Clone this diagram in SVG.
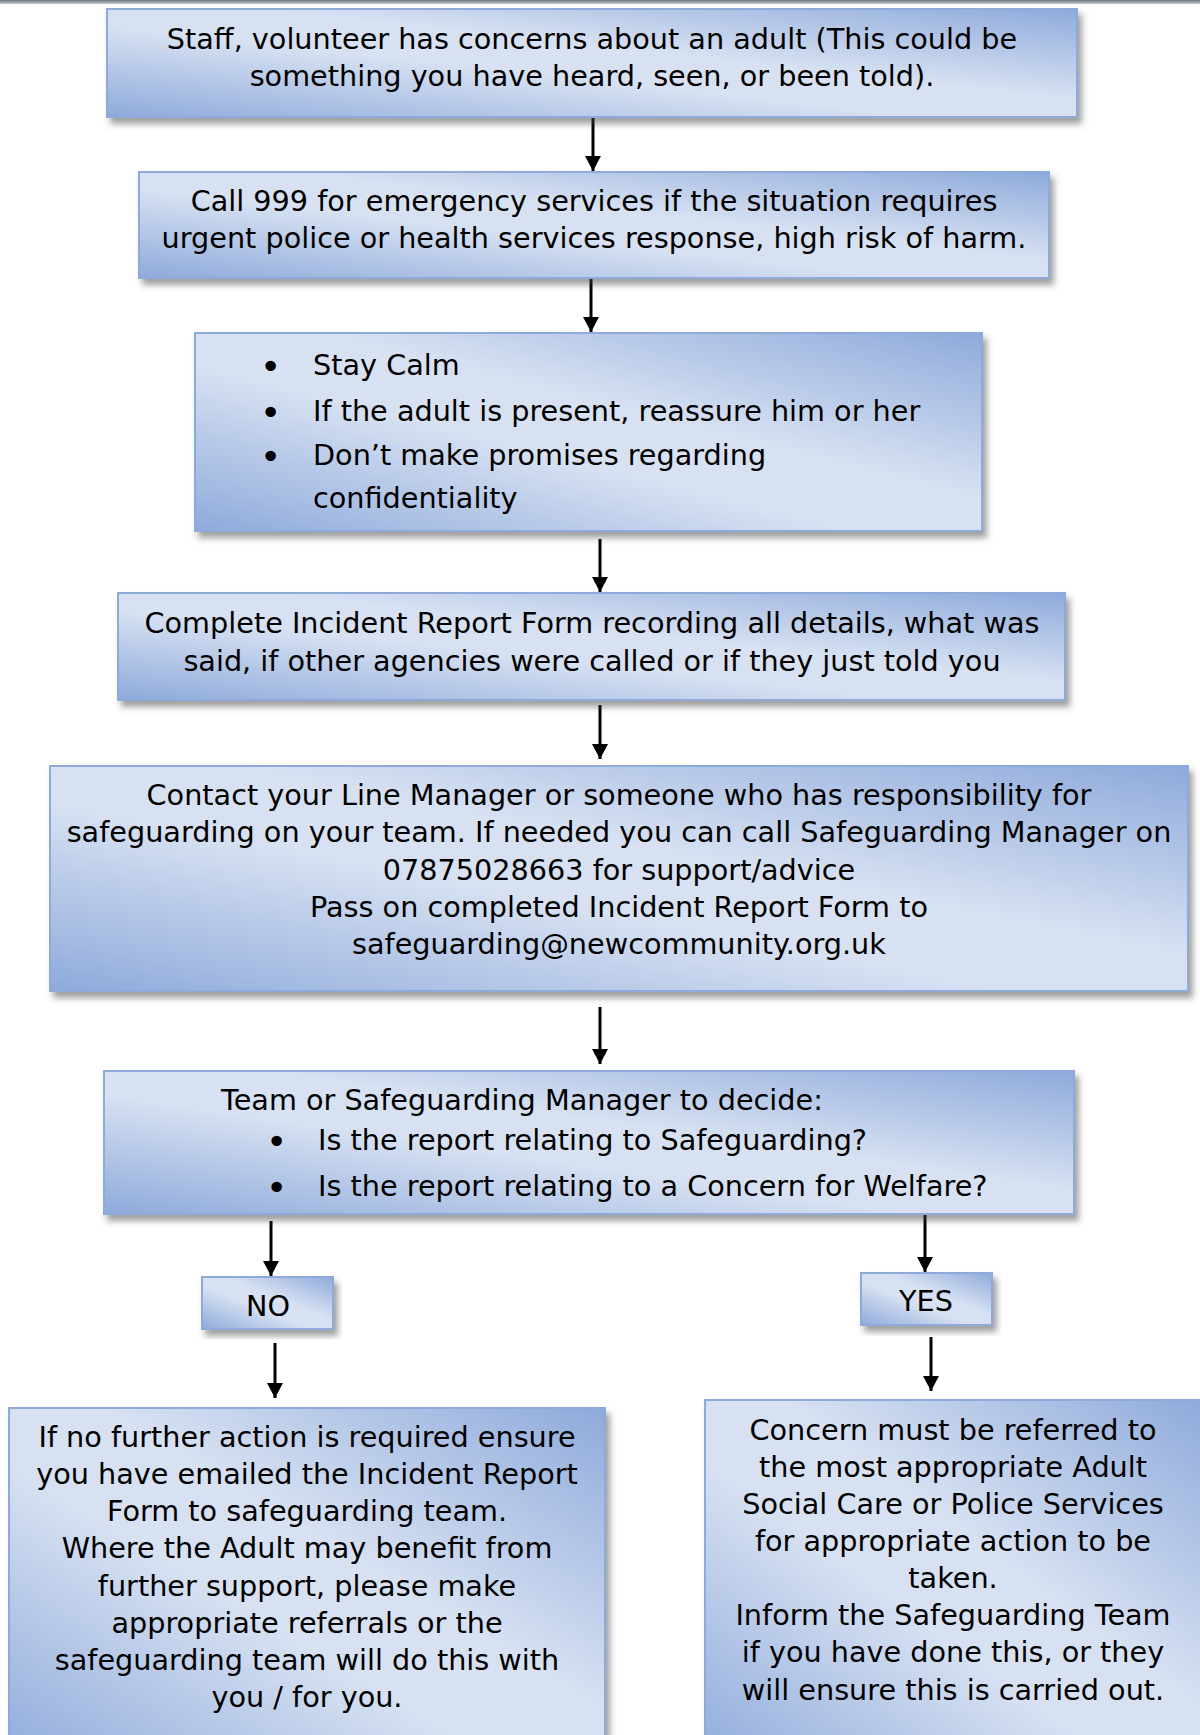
<svg xmlns="http://www.w3.org/2000/svg" width="1200" height="1735" viewBox="0 0 1200 1735">
<defs>
<linearGradient id="g" x1="1" y1="0" x2="0" y2="1">
<stop offset="0" stop-color="#8eaadb"/>
<stop offset="0.42" stop-color="#d7e1f2"/>
<stop offset="0.58" stop-color="#d7e1f2"/>
<stop offset="1" stop-color="#8eaadb"/>
</linearGradient>
<linearGradient id="top" x1="0" y1="0" x2="0" y2="1">
<stop offset="0" stop-color="#6b7380"/>
<stop offset="1" stop-color="#c8ccd2"/>
</linearGradient>
<filter id="sh" x="-5%" y="-10%" width="112%" height="130%">
<feDropShadow dx="4" dy="6" stdDeviation="3" flood-color="#404040" flood-opacity="0.5"/>
</filter>
<marker id="ah" viewBox="0 0 15 16" refX="15" refY="8" markerWidth="15" markerHeight="16" markerUnits="userSpaceOnUse" orient="auto">
<path d="M0,0 L15,8 L0,16 z" fill="#000"/>
</marker>
</defs>
<style>
.box{fill:url(#g);stroke:#8eaadb;stroke-width:2;filter:url(#sh)}
.t{font-family:"DejaVu Sans",Verdana,sans-serif;font-size:28.7px;fill:#000}
.b{font-family:"DejaVu Sans",Verdana,sans-serif;font-size:36px;fill:#000}
.c{text-anchor:middle}
.ar{stroke:#000;stroke-width:3;fill:none;marker-end:url(#ah)}
</style>
<rect x="0" y="0" width="1200" height="4" fill="url(#top)"/>

<g id="connectors">
<line class="ar" x1="593" y1="116" x2="593" y2="171"/>
<line class="ar" x1="591" y1="278" x2="591" y2="332"/>
<line class="ar" x1="600" y1="539" x2="600" y2="592"/>
<line class="ar" x1="600" y1="705" x2="600" y2="759"/>
<line class="ar" x1="600" y1="1007" x2="600" y2="1064"/>
<line class="ar" x1="271" y1="1221" x2="271" y2="1276"/>
<line class="ar" x1="925" y1="1214" x2="925" y2="1272"/>
<line class="ar" x1="275" y1="1343" x2="275" y2="1398"/>
<line class="ar" x1="931" y1="1337" x2="931" y2="1391"/>
</g>

<g id="n1">
<rect class="box" x="107" y="9" width="970" height="108"/>
<text class="t c" x="592" y="49">Staff, volunteer has concerns about an adult (This could be</text>
<text class="t c" x="592" y="86">something you have heard, seen, or been told).</text>
</g>

<g id="n2">
<rect class="box" x="139" y="172" width="910" height="106"/>
<text class="t c" x="594" y="211">Call 999 for emergency services if the situation requires</text>
<text class="t c" x="594" y="248">urgent police or health services response, high risk of harm.</text>
</g>

<g id="n3">
<rect class="box" x="195" y="333" width="787" height="198"/>
<text class="b" x="260" y="379">•</text>
<text class="t" x="313" y="375">Stay Calm</text>
<text class="b" x="260" y="425">•</text>
<text class="t" x="313" y="421">If the adult is present, reassure him or her</text>
<text class="b" x="260" y="469">•</text>
<text class="t" x="313" y="465">Don’t make promises regarding</text>
<text class="t" x="313" y="508">confidentiality</text>
</g>

<g id="n4">
<rect class="box" x="118" y="593" width="947" height="107"/>
<text class="t c" x="592" y="633">Complete Incident Report Form recording all details, what was</text>
<text class="t c" x="592" y="671">said, if other agencies were called or if they just told you</text>
</g>

<g id="n5">
<rect class="box" x="50" y="766" width="1138" height="225"/>
<text class="t c" x="619" y="805">Contact your Line Manager or someone who has responsibility for</text>
<text class="t c" x="619" y="842">safeguarding on your team. If needed you can call Safeguarding Manager on</text>
<text class="t c" x="619" y="880">07875028663 for support/advice</text>
<text class="t c" x="619" y="917">Pass on completed Incident Report Form to</text>
<text class="t c" x="619" y="954">safeguarding@newcommunity.org.uk</text>
</g>

<g id="n6">
<rect class="box" x="104" y="1071" width="970" height="143"/>
<text class="t" x="221" y="1110">Team or Safeguarding Manager to decide:</text>
<text class="b" x="266" y="1154">•</text>
<text class="t" x="318" y="1150">Is the report relating to Safeguarding?</text>
<text class="b" x="266" y="1200">•</text>
<text class="t" x="318" y="1196">Is the report relating to a Concern for Welfare?</text>
</g>

<g id="no">
<rect class="box" x="202" y="1277" width="131" height="52"/>
<text class="t c" x="268" y="1316">NO</text>
</g>

<g id="yes">
<rect class="box" x="861" y="1273" width="131" height="52"/>
<text class="t c" x="926" y="1311">YES</text>
</g>

<g id="n7">
<rect class="box" x="9" y="1408" width="596" height="360"/>
<text class="t c" x="307" y="1447">If no further action is required ensure</text>
<text class="t c" x="307" y="1484">you have emailed the Incident Report</text>
<text class="t c" x="307" y="1521">Form to safeguarding team.</text>
<text class="t c" x="307" y="1558">Where the Adult may benefit from</text>
<text class="t c" x="307" y="1596">further support, please make</text>
<text class="t c" x="307" y="1633">appropriate referrals or the</text>
<text class="t c" x="307" y="1670">safeguarding team will do this with</text>
<text class="t c" x="307" y="1707">you / for you.</text>
</g>

<g id="n8">
<rect class="box" x="705" y="1400" width="500" height="370"/>
<text class="t c" x="953" y="1440">Concern must be referred to</text>
<text class="t c" x="953" y="1477">the most appropriate Adult</text>
<text class="t c" x="953" y="1514">Social Care or Police Services</text>
<text class="t c" x="953" y="1551">for appropriate action to be</text>
<text class="t c" x="953" y="1588">taken.</text>
<text class="t c" x="953" y="1625">Inform the Safeguarding Team</text>
<text class="t c" x="953" y="1662">if you have done this, or they</text>
<text class="t c" x="953" y="1700">will ensure this is carried out.</text>
</g>
</svg>
